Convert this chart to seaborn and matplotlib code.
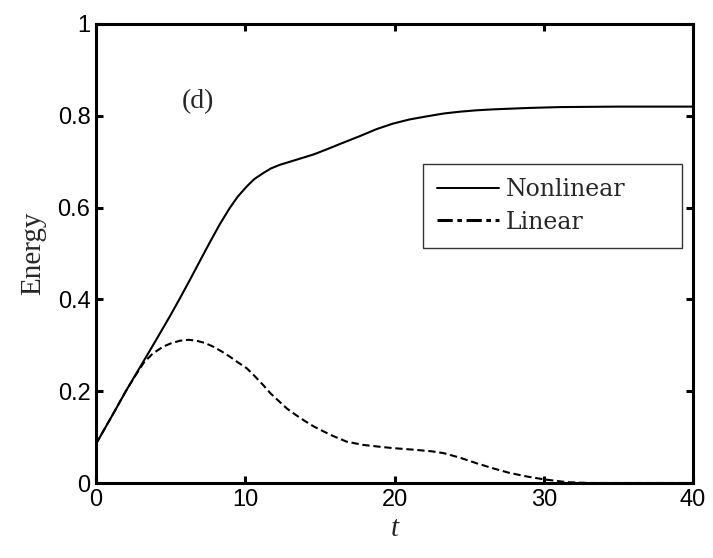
import matplotlib
matplotlib.use("Agg")
import matplotlib.pyplot as plt
from matplotlib.lines import Line2D
import seaborn as sns
import pandas as pd

# Data
t_nonlinear = [0, 1, 2, 3, 4, 5, 5.6, 6.3, 7, 7.64, 8.3, 8.98, 9.5, 10.1, 10.6, 11.2, 11.7,
               12.3, 13.4, 14.6, 15.7, 16.3, 17.7, 18.8, 19.9, 21, 22.2, 23.3, 24.4, 25.5,
               26.6, 28.9, 31.1, 35, 40]
e_nonlinear = [0.085, 0.142, 0.2, 0.255, 0.31, 0.366, 0.401, 0.443, 0.486, 0.525, 0.564, 0.6,
               0.624, 0.646, 0.662, 0.675, 0.685, 0.693, 0.704, 0.716, 0.73, 0.738, 0.756,
               0.771, 0.783, 0.792, 0.799, 0.805, 0.809, 0.812, 0.814, 0.817, 0.819, 0.82,
               0.82]
t_linear = [0, 1, 2, 2.6, 3.2, 3.8, 4.5, 5, 5.63, 6.2, 6.74, 7.3, 7.86, 8.4, 8.98, 9.5,
            10.1, 10.6, 11.2, 11.7, 12.3, 12.8, 13.4, 14, 14.6, 15.7, 16.8, 17.9, 19.0,
            19.9, 21.5, 22.5, 23.3, 24.4, 25.5, 26.6, 27.7, 28.9, 30, 31.5, 33, 40]
e_linear = [0.085, 0.142, 0.2, 0.232, 0.262, 0.282, 0.297, 0.304, 0.31, 0.312, 0.31, 0.305,
            0.297, 0.287, 0.275, 0.263, 0.25, 0.234, 0.2135, 0.195, 0.177, 0.162, 0.148,
            0.135, 0.123, 0.105, 0.09, 0.083, 0.079, 0.076, 0.072, 0.069, 0.065, 0.055,
            0.043, 0.032, 0.022, 0.014, 0.008, 0.002, 0.0, 0.0]
series_names = ["Nonlinear", "Linear"]
x_ticks = [0, 10, 20, 30, 40]
y_ticks = [0, 0.2, 0.4, 0.6, 0.8, 1]
y_tick_labels = ["0", "0.2", "0.4", "0.6", "0.8", "1"]

df = pd.concat([
    pd.DataFrame({"t": t_nonlinear, "Energy": e_nonlinear, "series": series_names[0]}),
    pd.DataFrame({"t": t_linear, "Energy": e_linear, "series": series_names[1]}),
])

sns.set_style("ticks")
fig = plt.figure(figsize=(7.13, 5.58), dpi=100)
ax = fig.add_axes([0.1346, 0.1344, 0.8374, 0.8226])

sns.lineplot(data=df, x="t", y="Energy", hue="series", style="series",
             palette={"Nonlinear": "black", "Linear": "black"},
             dashes={"Nonlinear": "", "Linear": (3.5, 1.8)},
             linewidth=1.5, ax=ax, legend=False, sort=False)

ax.set_xlim(0, 40)
ax.set_ylim(0, 1)
ax.set_xticks(x_ticks)
ax.set_yticks(y_ticks)
ax.set_yticklabels(y_tick_labels)
for s in ax.spines.values():
    s.set_linewidth(2.2)
    s.set_color("black")
ax.tick_params(direction="in", top=True, right=True, length=5, width=2.2,
               labelsize=17, pad=4, colors="black")
for lab in ax.get_xticklabels() + ax.get_yticklabels():
    lab.set_fontfamily("Liberation Sans")

ax.set_xlabel("t", fontsize=21, fontstyle="italic", fontfamily="Liberation Serif", labelpad=4)
ax.set_ylabel("Energy", fontsize=21, fontfamily="Liberation Serif", labelpad=8)

ax.text(6.8, 0.83, "(d)", fontsize=20, fontfamily="Liberation Serif",
        ha="center", va="center")

handles = [Line2D([], [], color="black", linestyle="-", linewidth=1.4),
           Line2D([], [], color="black", linestyle=(0, (5, 1.5, 1.5, 1.5)), linewidth=2.2)]
leg = ax.legend(handles, series_names, loc="upper left",
                bbox_to_anchor=(0.548, 0.519, 0.434, 0.176), mode="expand",
                frameon=True, fancybox=False, edgecolor="black",
                prop={"family": "DejaVu Serif", "size": 17}, handlelength=2.6,
                borderpad=0.6, labelspacing=0.4, handletextpad=0.3,
                borderaxespad=0)
leg.get_frame().set_linewidth(1.0)

fig.savefig("out.png", dpi=100)
